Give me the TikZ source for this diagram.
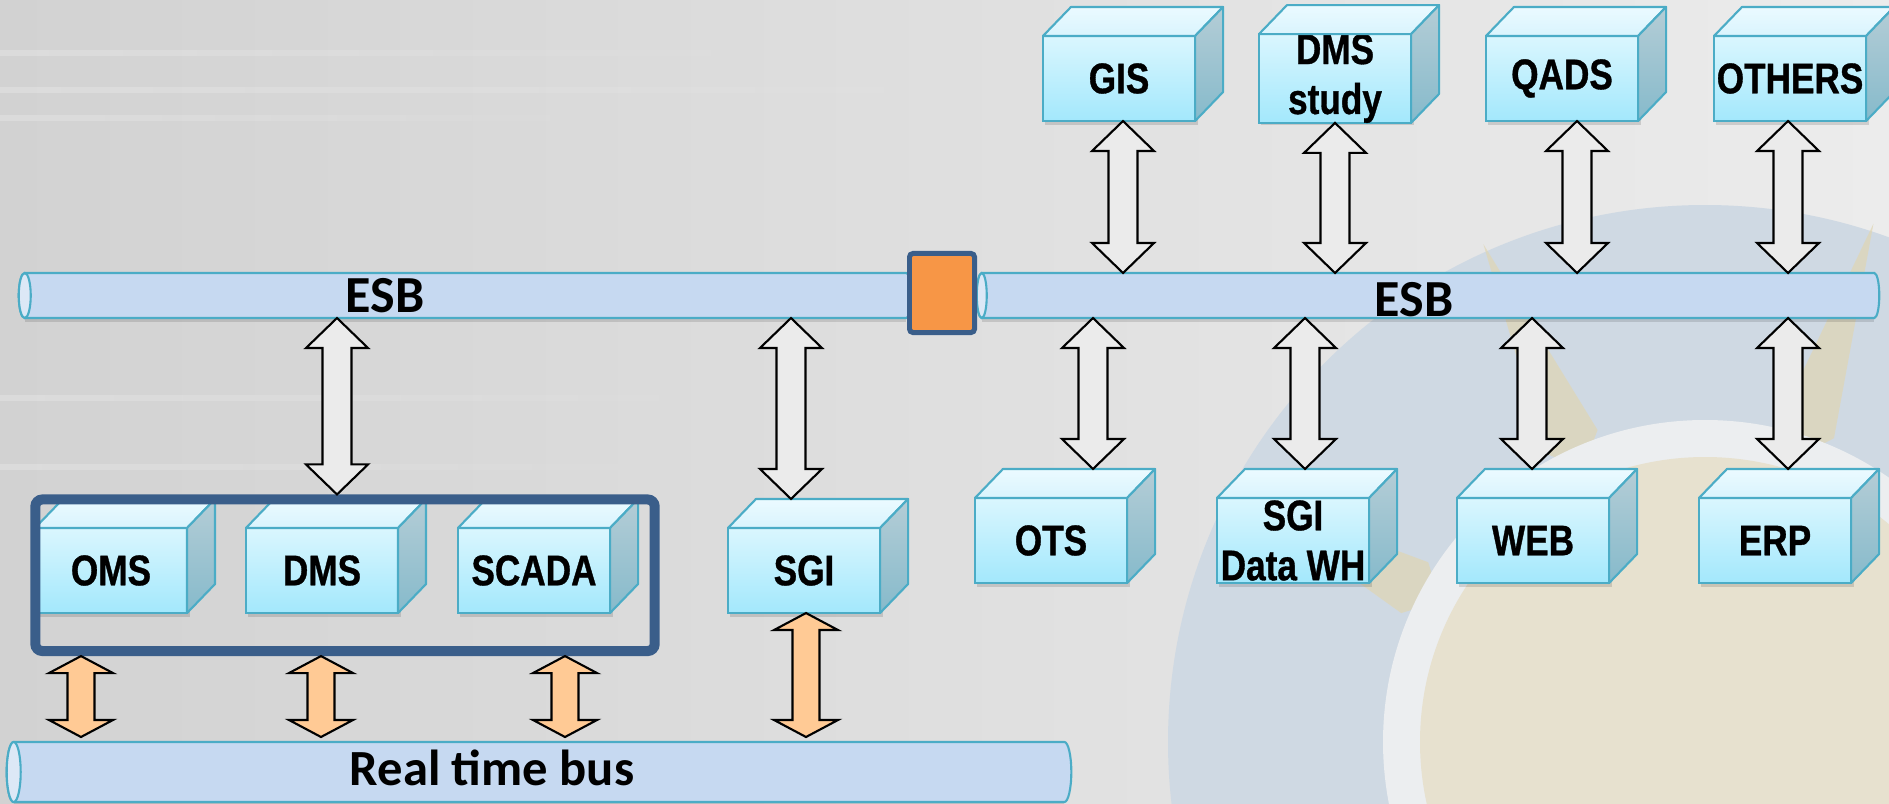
\documentclass[tikz,border=0pt]{standalone}
\usepackage{fontspec}
\setmainfont{Liberation Sans}
\newfontfamily\boxfont[FakeStretch=0.82,FakeBold=0.8]{Liberation Sans Bold}
\newfontfamily\busfont{Carlito}
\usetikzlibrary{calc,fadings}

\definecolor{boxline}{HTML}{4BACC6}
\definecolor{frontTop}{HTML}{DAF6FE}
\definecolor{frontBot}{HTML}{A3E8FC}
\definecolor{topA}{HTML}{EBFAFF}
\definecolor{topB}{HTML}{D9F4FD}
\definecolor{sideA}{HTML}{B4CDD6}
\definecolor{sideB}{HTML}{86BACB}
\definecolor{pipefill}{HTML}{C6D9F1}
\definecolor{pipeend}{HTML}{DCE8F6}
\definecolor{framecol}{HTML}{3A5E8A}
\definecolor{gateorange}{HTML}{F79646}
\definecolor{arrowgrey}{HTML}{EBEBEB}
\definecolor{arrowpeach}{HTML}{FFCA95}
\definecolor{bgL}{HTML}{D2D2D2}
\definecolor{bgM}{HTML}{E4E4E4}
\definecolor{bgR}{HTML}{ECECEC}
\definecolor{markblue}{HTML}{CFD9E3}
\definecolor{markwhite}{HTML}{ECEEF0}
\definecolor{markbeige}{HTML}{E7E1CF}
\definecolor{markray}{HTML}{E0D6B3}

% vertical two-headed block arrow
% #1 style, #2 upper tip, #3 lower tip, #4 half head width, #5 half shaft width, #6 head length
\newcommand\twoway[6]{%
  \draw[#1] let \p1=(#2), \p2=(#3) in
    (\x1,\y1) -- (\x1+#4,\y1-#6) -- (\x1+#5,\y1-#6) -- (\x1+#5,\y2+#6)
    -- (\x1+#4,\y2+#6) -- (\x1,\y2) -- (\x1-#4,\y2+#6) -- (\x1-#5,\y2+#6)
    -- (\x1-#5,\y1-#6) -- (\x1-#4,\y1-#6) -- cycle;}
\newcommand\busarrow[2]{\twoway{greyarrow}{#1}{#2}{0.31cm}{0.145cm}{0.30cm}}
\newcommand\rtarrow[2]{\twoway{peacharrow}{#1}{#2}{0.32cm}{0.135cm}{0.17cm}}

% 3D box: #1 name, #2 x of front left edge, #3 y of front top edge, #4 label
\newcommand\cube[4]{%
  \fill[cubeshadow] (#2+2,#3+3) rectangle (#2+155,#3+89);
  \node[cubefront] (#1) at (#2+76,#3+42.5) {#4};
  \filldraw[cubetop] (#1.north west) -- ++(28,-29) -- ($(#1.north east)+(28,-29)$)
    -- (#1.north east) -- cycle;
  \filldraw[cubeside] (#1.north east) -- ++(28,-29) -- ($(#1.south east)+(28,-29)$)
    -- (#1.south east) -- cycle;
  \coordinate (#1-back) at ($(#1.north)+(14,-29)$);}

% cylinder-shaped bus drawn over the extent of a named node; #2 = radius of the ends
\newcommand\drawpipe[2]{%
  \fill[black,opacity=.12] let \p1=(#1.north west), \p2=(#1.south east) in
    (\x1+#2,\y2+2pt) rectangle (\x2-#2,\y2-1.2pt);
  \filldraw[pipeline] let \p1=(#1.north west), \p2=(#1.south east), \n1={(\y1-\y2)/2} in
    (\x1+#2,\y1) -- (\x2-#2,\y1) arc[start angle=90,end angle=-90,x radius=#2,y radius=\n1]
    -- (\x1+#2,\y2) arc[start angle=270,end angle=90,x radius=#2,y radius=\n1] -- cycle;
  \filldraw[pipeline,fill=pipeend] let \p1=(#1.north west), \p2=(#1.south east), \n1={(\y1-\y2)/2} in
    (\x1+#2,{(\y1+\y2)/2}) ellipse[x radius=#2,y radius=\n1];}

\begin{document}
\begin{tikzpicture}[x=0.01cm,y=-0.01cm,
  cubefront/.style={draw=boxline,line width=0.6pt,top color=frontTop,bottom color=frontBot,
    minimum width=1.52cm,minimum height=0.85cm,inner sep=0pt,outer sep=0pt,align=center,
    font=\boxfont\fontsize{12.2}{14.2}\selectfont},
  cubetop/.style={draw=boxline,line width=0.6pt,line join=round,top color=topA,bottom color=topB},
  cubeside/.style={draw=boxline,line width=0.6pt,line join=round,top color=sideA,bottom color=sideB},
  cubeshadow/.style={fill=black,opacity=.13},
  busnode/.style={inner sep=0pt,outer sep=0pt,minimum height=0.45cm},
  pipeline/.style={draw=boxline,line width=0.6pt,fill=pipefill},
  gatebox/.style={draw=framecol,fill=gateorange,line width=1.42pt,rounded corners=1pt,
    minimum width=0.65cm,minimum height=0.79cm,inner sep=0pt,outer sep=0pt},
  coreframe/.style={draw=framecol,line width=2.85pt,rounded corners=2pt,
    minimum width=6.19cm,minimum height=1.515cm,inner sep=0pt,outer sep=1.425pt},
  bustext/.style={font=\busfont\bfseries\fontsize{14.8}{16}\selectfont,inner sep=0pt},
  greyarrow/.style={draw=black,fill=arrowgrey,line width=0.6pt,line join=miter},
  peacharrow/.style={draw=black,fill=arrowpeach,line width=0.6pt,line join=miter}]

\useasboundingbox (0,0) rectangle (1889,803);

% backdrop
\fill[left color=bgL,middle color=bgM,right color=bgR] (0,0) rectangle (1889,803);
\begin{scope}
  \clip (0,0) rectangle (1889,803);
  \coordinate (wm) at (1705,742);
  \fill[markblue] (wm) circle[radius=537];
  \foreach \a in {114,72,152}{
    \fill[markray,opacity=.7] ($(wm)+({-\a-5}:330)$) -- ($(wm)+({-\a}:545)$)
      -- ($(wm)+({-\a+5}:330)$) -- ($(wm)+({-\a}:300)$) -- cycle;}
  \fill[markwhite] (wm) circle[radius=322];
  \fill[markbeige] (wm) circle[radius=285];
\end{scope}
\foreach \y/\len in {53/820,90/1020,118/620,398/760,467/700}{
  \fill[white,opacity=.22,path fading=east] (0,\y-3) rectangle (\len,\y+3);}

% buses
\node[busnode,minimum width=8.93cm] (esbL) at (465.5,295.5) {};
\node[busnode,minimum width=9.02cm] (esbR) at (1428,295.5) {};
\node[busnode,minimum width=10.64cm,minimum height=0.6cm] (rtbus) at (539,772) {};
\drawpipe{esbL}{0.06cm}
\drawpipe{esbR}{0.05cm}
\drawpipe{rtbus}{0.07cm}
\node[gatebox] (gate) at (942,293) {};

% systems
\cube{oms}{35}{528}{OMS}
\cube{dms}{246}{528}{DMS}
\cube{scada}{458}{528}{SCADA}
\cube{sgi}{728}{528}{SGI}
\cube{gis}{1043}{36}{GIS}
\cube{dmsstudy}{1259}{36}{DMS\\study}
\cube{qads}{1486}{36}{QADS}
\cube{others}{1714}{36}{OTHERS}
\cube{ots}{975}{498}{OTS}
\cube{sgidwh}{1217}{498}{SGI\\Data WH}
\cube{web}{1457}{498}{WEB}
\cube{erp}{1699}{498}{ERP}

% frame grouping OMS / DMS / SCADA
\node[coreframe] (core) at (345,575.25) {};

% arrow axes
\coordinate (aCore) at (337,0);
\coordinate (aSgi) at (791,0);
\coordinate (aGis) at (1123,0);
\coordinate (aStudy) at (1335,0);
\coordinate (aQads) at (1577,0);
\coordinate (aOthers) at (1788,0);
\coordinate (aOts) at (1093,0);
\coordinate (aDwh) at (1305,0);
\coordinate (aWeb) at (1532,0);
\coordinate (aErp) at (1788,0);
\coordinate (rOms) at (81,0);
\coordinate (rDms) at (321,0);
\coordinate (rScada) at (565,0);
\coordinate (rSgi) at (806,0);

% ESB links
\busarrow{esbL.south -| aCore}{core.north -| aCore}
\busarrow{esbL.south -| aSgi}{sgi-back -| aSgi}
\busarrow{gis.south -| aGis}{esbR.north -| aGis}
\busarrow{dmsstudy.south -| aStudy}{esbR.north -| aStudy}
\busarrow{qads.south -| aQads}{esbR.north -| aQads}
\busarrow{others.south -| aOthers}{esbR.north -| aOthers}
\busarrow{esbR.south -| aOts}{ots-back -| aOts}
\busarrow{esbR.south -| aDwh}{sgidwh-back -| aDwh}
\busarrow{esbR.south -| aWeb}{web-back -| aWeb}
\busarrow{esbR.south -| aErp}{erp-back -| aErp}

% real time bus links
\rtarrow{core.south -| rOms}{$(rtbus.north -| rOms)+(0,-5)$}
\rtarrow{core.south -| rDms}{$(rtbus.north -| rDms)+(0,-5)$}
\rtarrow{core.south -| rScada}{$(rtbus.north -| rScada)+(0,-5)$}
\rtarrow{sgi.south -| rSgi}{$(rtbus.north -| rSgi)+(0,-5)$}

% bus labels
\node[bustext] (esbLlabel) at (385,296) {ESB};
\node[bustext] (esbRlabel) at (1414,300) {ESB};
\node[bustext,font=\busfont\bfseries\fontsize{14.4}{16}\selectfont] (rtlabel) at (492,768) {Real time bus};
\end{tikzpicture}
\end{document}
